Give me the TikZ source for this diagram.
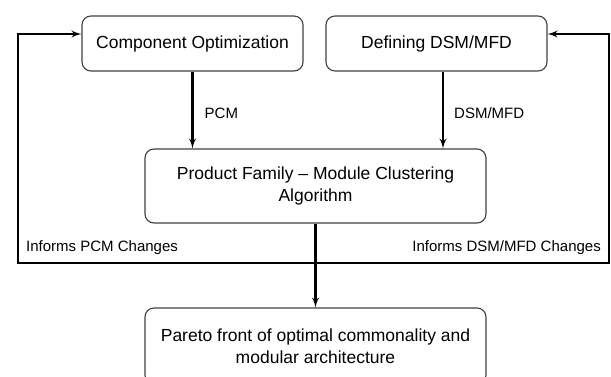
\documentclass[tikz,border=0pt]{standalone}
\usepackage{xcolor}
\usepackage{fontspec}
\setmainfont{Liberation Sans}
\usepackage{tikz}
\usetikzlibrary{shapes,arrows,positioning}
\tikzstyle{process} = [rectangle, draw=black!75, line width=1.1pt, rounded corners=9pt, align=center, font=\fontsize{17.5}{22}\selectfont, inner sep=0pt]
\tikzstyle{line} = [draw, line width=2.4pt, -latex']
\tikzstyle{note} = [font=\fontsize{15}{18}\selectfont, inner sep=0pt]

\begin{document}
\begin{tikzpicture}[x=1pt, y=1pt]
    \useasboundingbox (0,0) rectangle (611,-377);
    \node [process, minimum width=221pt, minimum height=55pt] (compopt) at (192.5,-43.5) {Component Optimization};
    \node [process, minimum width=221pt, minimum height=55pt] (dsm) at (436.5,-43.5) {Defining DSM/MFD};
    \node [process, minimum width=341pt, minimum height=74pt] (cluster) at (315.5,-186) {Product Family -- Module Clustering\\Algorithm};
    \node [process, minimum width=341pt, minimum height=76pt] (pareto) at (315.5,-346) {Pareto front of optimal commonality and\\modular architecture};

    % feedback corners
    \coordinate (fb) at (315.5,-263);
    \coordinate (fbleft) at (18,-263);
    \coordinate (fbright) at (609,-263);

    \path [line] (compopt.south) -- (compopt.south |- cluster.north) node [note, pos=0.54, right=11pt] {PCM};
    \path [line] ([xshift=6.5pt]dsm.south) -- ([xshift=6.5pt]dsm.south |- cluster.north) node [note, pos=0.54, right=10pt] {DSM/MFD};
    \path [line] (cluster) -- (pareto);

    \path [line] (fb) -- (fbleft) |- ([yshift=9.5pt]compopt.west);
    \path [line] (fb) -- (fbright) |- ([yshift=9.5pt]dsm.east);

    \node [note, anchor=west] (pcmnote) at (26,-248) {Informs PCM Changes};
    \node [note, anchor=east] (dsmnote) at (601,-248) {Informs DSM/MFD Changes};
\end{tikzpicture}
\end{document}
